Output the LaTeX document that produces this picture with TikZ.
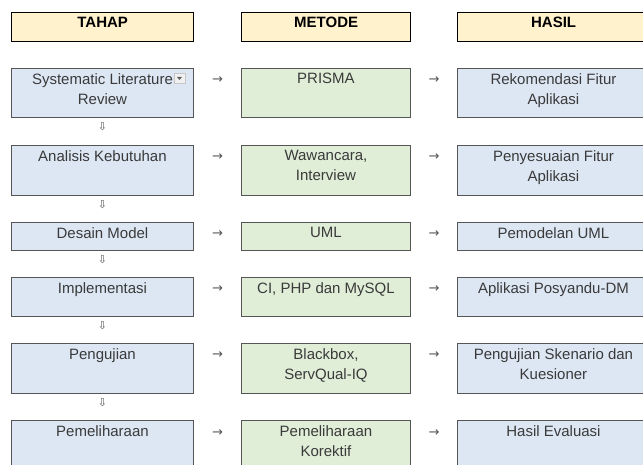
\documentclass[tikz,border=0pt]{standalone}
\usepackage{fontspec}
\setmainfont{Liberation Sans}
\newfontfamily\symfont{DejaVu Sans}
\usetikzlibrary{positioning}
\definecolor{headfill}{HTML}{FFF2CC}
\definecolor{bluefill}{HTML}{DDE7F4}
\definecolor{greenfill}{HTML}{E0EED8}
\definecolor{cellline}{HTML}{555555}
\definecolor{celltext}{HTML}{3A3A3A}
\definecolor{arrowgray}{HTML}{555555}

\begin{document}
\begin{tikzpicture}[x=1pt, y=-1pt,
  head/.style={draw=black, line width=1.3pt, fill=headfill, anchor=north west,
    inner sep=0pt, minimum height=29pt},
  cell/.style={draw=cellline, line width=0.9pt, anchor=north west, inner sep=0pt},
  tahapbox/.style={cell, fill=bluefill, minimum width=182pt},
  metodebox/.style={cell, fill=greenfill, minimum width=169pt},
  hasilbox/.style={cell, fill=bluefill, minimum width=192pt},
  txt/.style={anchor=north, yshift=-5pt, align=center, inner sep=0pt,
    text=celltext, font=\fontsize{15}{20}\selectfont},
  headtxt/.style={txt, text=black, font=\fontsize{15}{20}\selectfont\bfseries},
  nextarrow/.style={anchor=base, inner sep=0pt, text=arrowgray,
    font=\symfont\fontsize{13}{13}\selectfont},
  downarrow/.style={inner sep=0pt, text=arrowgray,
    font=\symfont\fontsize{11}{11}\selectfont}]
  \clip (0,0) rectangle (643,465);
  % Header row
  \node[head, minimum width=182pt] (htahap) at (11,12) {};
  \node[head, minimum width=169pt] (hmetode) at (241,12) {};
  \node[head, minimum width=192pt] (hhasil) at (457,12) {};
  \node[headtxt] at (htahap.north) {TAHAP};
  \node[headtxt] at (hmetode.north) {METODE};
  \node[headtxt] at (hhasil.north) {HASIL};
  % Cells of each row: index / top / height
  \foreach \i/\top/\h in {1/68/49, 2/145/50, 3/222/28, 4/277/39, 5/343/50, 6/420/50} {
    \node[tahapbox, minimum height=\h pt] (t\i) at (11,\top) {};
    \node[metodebox, minimum height=\h pt] (m\i) at (241,\top) {};
    \node[hasilbox, minimum height=\h pt] (r\i) at (457,\top) {};
    \path (t\i.north east) -- (m\i.north west)
      node[midway, nextarrow, yshift=-16pt] (am\i) {→};
    \path (m\i.north east) -- (r\i.north west)
      node[midway, nextarrow, yshift=-16pt] (ar\i) {→};
  }
  % Down arrows between stages
  \foreach \i in {1,...,5} {
    \node[downarrow, below=4pt of t\i.south] (d\i) {⇩};
  }
  % Stage texts
  \node[txt] (st1) at (t1.north) {Systematic Literature\\Review};
  \node[txt] (st2) at (t2.north) {Analisis Kebutuhan};
  \node[txt] (st3) at (t3.north) {Desain Model};
  \node[txt] (st4) at (t4.north) {Implementasi};
  \node[txt] (st5) at (t5.north) {Pengujian};
  \node[txt] (st6) at (t6.north) {Pemeliharaan};
  % Method texts
  \node[txt] (sm1) at (m1.north) {PRISMA};
  \node[txt] (sm2) at (m2.north) {Wawancara,\\Interview};
  \node[txt] (sm3) at (m3.north) {UML};
  \node[txt] (sm4) at (m4.north) {CI, PHP dan MySQL};
  \node[txt] (sm5) at (m5.north) {Blackbox,\\ServQual-IQ};
  \node[txt] (sm6) at (m6.north) {Pemeliharaan\\Korektif};
  % Result texts
  \node[txt] (sr1) at (r1.north) {Rekomendasi Fitur\\Aplikasi};
  \node[txt] (sr2) at (r2.north) {Penyesuaian Fitur\\Aplikasi};
  \node[txt] (sr3) at (r3.north) {Pemodelan UML};
  \node[txt] (sr4) at (r4.north) {Aplikasi Posyandu-DM};
  \node[txt] (sr5) at (r5.north) {Pengujian Skenario dan\\Kuesioner};
  \node[txt] (sr6) at (r6.north) {Hasil Evaluasi};
  % Dropdown mark in the first cell
  \draw[fill=gray!12, draw=gray!45, line width=0.5pt] (174,73) rectangle (185,83);
  \fill[gray!75!black] (177,77) -- (182,77) -- (179.5,80) -- cycle;
\end{tikzpicture}
\end{document}
